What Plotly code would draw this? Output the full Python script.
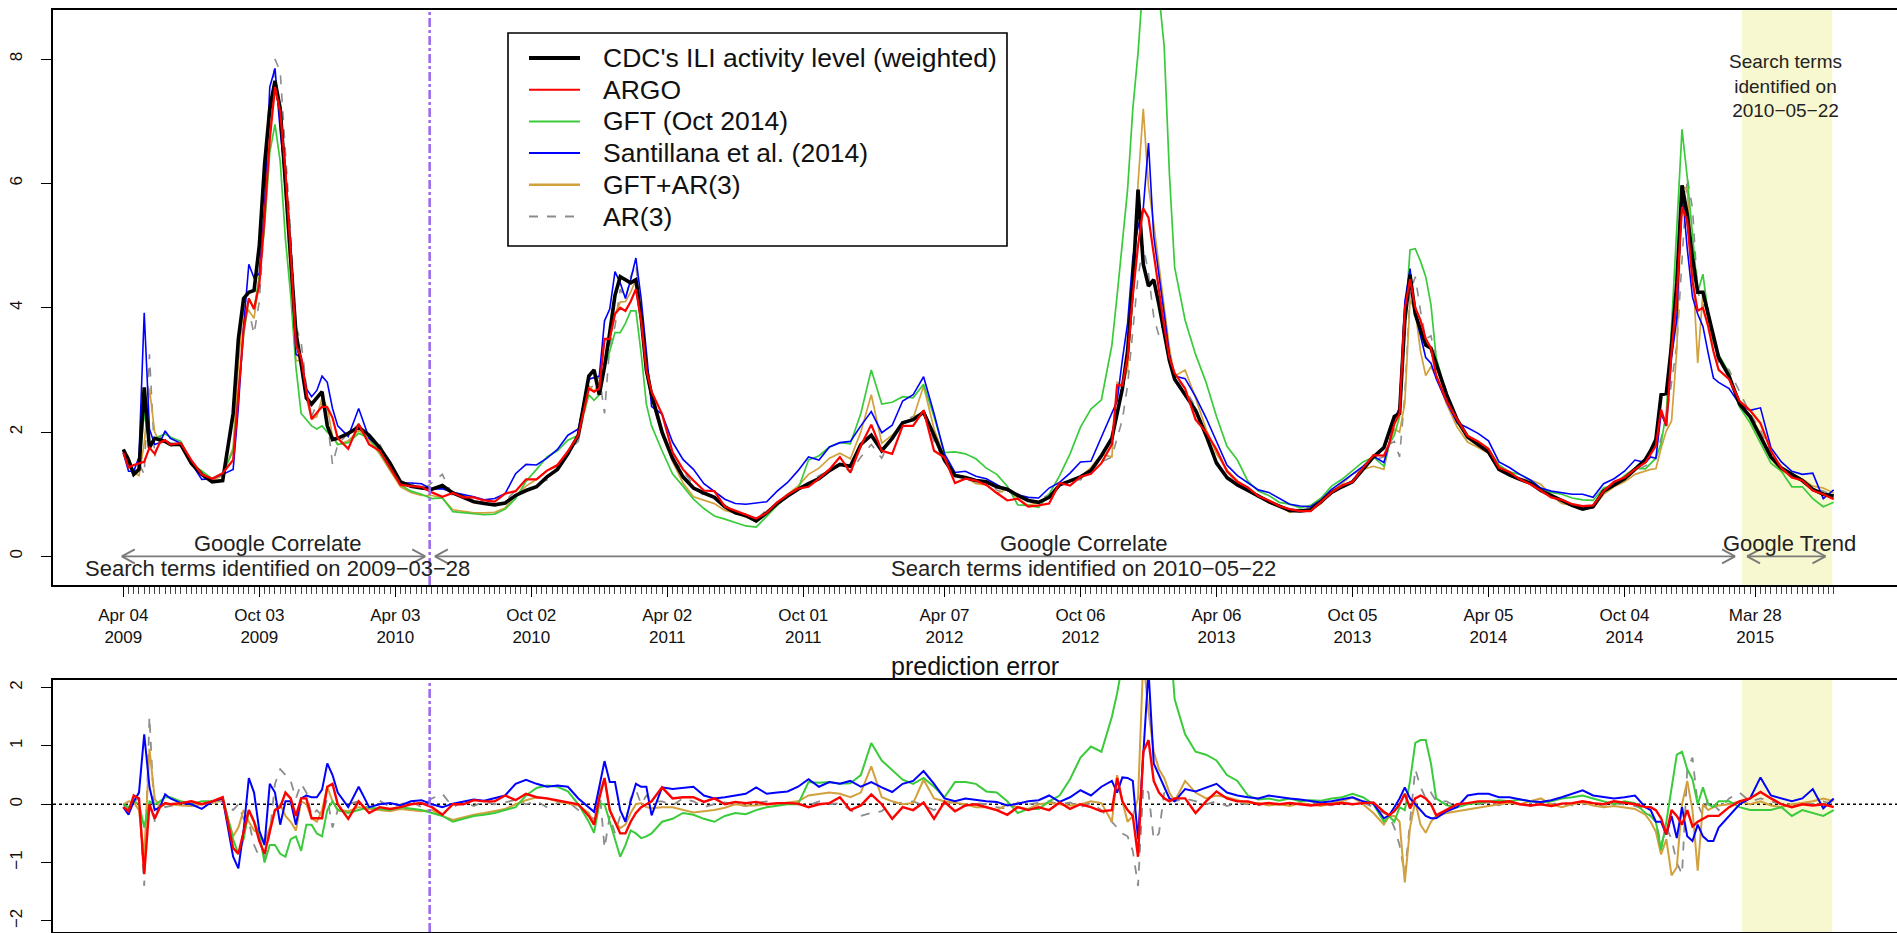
import pandas as pd
import plotly.graph_objects as go

START = pd.Timestamp("2009-04-04")

WEEK_OFFSETS = [
    0, 1, 2, 3, 4, 5, 6, 7, 8,
    9, 11, 13, 15, 17, 19,
    21, 22, 23, 24, 25, 26, 27, 28, 29, 30, 31, 32, 33, 34, 35, 36, 37, 38, 39, 40, 41,
    43, 45, 47, 49, 51, 53, 55, 57, 59, 61, 63, 65, 67, 69, 71, 73, 75, 77, 79, 81, 83, 85, 87,
    89, 90, 91, 92, 93, 94, 95, 96, 97, 98, 99, 100, 101,
    103, 105, 107, 109, 111, 113, 115, 117, 119, 121, 123, 125, 127, 129, 131, 133, 135, 137, 139, 141, 143,
    145, 147, 149, 151, 153, 155, 157, 159, 161, 163, 165, 167, 169, 171, 173, 175, 177, 179, 181, 183, 185, 187,
    189, 190, 191, 192, 193, 194, 195, 196, 197, 198, 199, 200, 201,
    203, 205, 207, 209, 211, 213, 215, 217, 219, 221, 223, 225, 227, 229, 231, 233, 235, 237, 239, 241,
    242, 243, 244, 245, 246, 247, 248, 249, 250, 251,
    253, 255, 257, 259, 261, 263, 265, 267, 269, 271, 273, 275, 277, 279, 281, 283, 285, 287, 289, 291,
    292, 293, 294, 295, 296, 297, 298, 299, 300, 301, 302, 303, 304, 305,
    307, 309, 311, 313, 315, 317, 319, 321, 323, 325, 327,
]

# CDC's ILI activity level (weighted)
CDC_ILI = [
    1.72, 1.55, 1.32, 1.40, 2.72, 1.75, 1.90, 1.88, 1.85,
    1.80, 1.80, 1.50, 1.32, 1.20, 1.22,
    2.30, 3.50, 4.15, 4.25, 4.28, 5.00, 6.30, 7.20, 7.65, 7.20, 6.00, 4.80, 3.60, 3.10, 2.55, 2.45, 2.55, 2.65, 2.10, 1.88, 1.90,
    1.98, 2.08, 1.95, 1.75, 1.50, 1.20, 1.13, 1.10, 1.08, 1.14, 1.02, 0.95, 0.88, 0.85, 0.83, 0.86, 0.98, 1.06, 1.12, 1.28, 1.40, 1.65, 1.95,
    2.90, 3.00, 2.60, 3.05, 3.60, 4.20, 4.50, 4.45, 4.40, 4.45, 3.85, 3.00, 2.60,
    2.00, 1.58, 1.28, 1.10, 1.02, 0.95, 0.80, 0.70, 0.66, 0.57, 0.70, 0.85, 0.97, 1.08, 1.17, 1.25, 1.38, 1.48, 1.45, 1.80, 1.95,
    1.70, 1.90, 2.15, 2.20, 2.32, 1.95, 1.55, 1.30, 1.27, 1.22, 1.20, 1.12, 1.08, 0.98, 0.90, 0.87, 0.95, 1.15, 1.22, 1.28, 1.38, 1.62,
    1.90, 2.30, 2.70, 3.30, 4.40, 5.90, 4.70, 4.35, 4.45, 4.05, 3.60, 3.15, 2.85,
    2.60, 2.35, 1.95, 1.50, 1.27, 1.15, 1.06, 0.97, 0.88, 0.81, 0.74, 0.73, 0.75, 0.88, 1.03, 1.12, 1.20, 1.40, 1.60, 1.75,
    2.00, 2.25, 2.30, 3.80, 4.53, 3.90, 3.65, 3.40, 3.35, 3.10,
    2.60, 2.20, 1.92, 1.80, 1.68, 1.40, 1.31, 1.24, 1.18, 1.06, 0.98, 0.90, 0.82, 0.76, 0.80, 1.05, 1.15, 1.25, 1.40, 1.56,
    1.70, 1.88, 2.60, 2.62, 3.40, 4.40, 5.97, 5.50, 4.80, 4.25, 4.25, 3.90, 3.50, 3.20,
    2.90, 2.45, 2.25, 1.93, 1.60, 1.42, 1.32, 1.22, 1.08, 1.00, 0.97,
]

# prediction errors (estimate minus CDC)
ERR_ARGO = [
    -0.05, -0.12, 0.15, 0.10, -1.20, 0.00, -0.25, -0.05, 0.02,
    0.00, 0.02, 0.05, 0.00, 0.05, 0.12,
    -0.75, -0.85, -0.50, -0.10, -0.30, -0.63, -0.85, -0.50, -0.10, -0.05, 0.20, 0.10, -0.20, 0.10, 0.10, -0.24, -0.24, -0.24, 0.30, 0.35, 0.00,
    -0.25, 0.05, -0.15, -0.05, -0.08, -0.05, 0.00, 0.02, -0.05, -0.18, 0.00, 0.00, 0.07, 0.05, 0.05, 0.15, 0.07, 0.18, 0.12, 0.10, 0.07, 0.04, 0.00,
    -0.20, -0.35, 0.10, 0.45, -0.10, -0.30, -0.50, -0.50, -0.30, -0.15, -0.05, 0.00, 0.05,
    0.29, 0.10, 0.12, 0.12, 0.04, 0.10, 0.00, 0.04, 0.02, 0.04, 0.00, 0.02, 0.02, 0.01, -0.05, 0.00, 0.02, 0.12, -0.10, -0.02, 0.17,
    0.00, -0.25, -0.05, -0.10, 0.03, -0.25, 0.04, -0.12, -0.02, 0.00, -0.05, -0.10, -0.18, -0.05, -0.10, -0.05, -0.10, 0.03, -0.08, 0.00, -0.05, -0.12,
    -0.10, 0.45, 0.05, -0.10, -0.20, -0.90, 0.90, 1.10, 0.40, 0.20, 0.10, 0.05, 0.10,
    0.10, -0.15, 0.05, 0.22, 0.10, 0.05, 0.05, 0.00, 0.02, 0.00, 0.02, 0.00, -0.02, 0.00, 0.00, 0.02, 0.00, 0.02, 0.03, -0.13,
    -0.19, -0.12, 0.00, 0.18, -0.07, 0.10, 0.15, 0.10, 0.00, -0.19,
    -0.10, 0.00, 0.02, 0.05, 0.05, 0.03, 0.05, 0.00, -0.02, 0.00, -0.03, 0.01, 0.02, 0.05, 0.02, 0.00, 0.05, 0.02, 0.00, -0.05,
    -0.05, -0.10, -0.24, -0.52, -0.10, -0.20, -0.35, -0.10, -0.38, -0.30, -0.25, -0.20, -0.20, -0.20,
    -0.05, 0.05, 0.10, 0.21, 0.10, 0.00, -0.05, 0.00, -0.02, 0.00, -0.05,
]

ERR_GFT = [
    0.00, -0.05, 0.05, 0.00, -0.40, 0.05, 0.00, 0.05, 0.12,
    0.12, 0.05, 0.00, 0.05, 0.05, 0.12,
    -0.60, -0.85, -0.60, -0.10, -0.30, -0.50, -1.00, -0.70, -0.70, -0.85, -0.90, -0.60, -0.55, -0.80, -0.35, -0.35, -0.50, -0.55, -0.10, 0.05, -0.10,
    -0.15, -0.10, -0.05, -0.08, -0.10, -0.05, -0.08, -0.10, -0.15, -0.20, -0.30, -0.25, -0.20, -0.18, -0.15, -0.10, -0.05, 0.15, 0.28, 0.32, 0.30, 0.22, 0.00,
    -0.30, -0.49, 0.00, 0.00, -0.30, -0.60, -0.90, -0.70, -0.45, -0.50, -0.58, -0.55, -0.50,
    -0.30, -0.25, -0.15, -0.18, -0.25, -0.30, -0.20, -0.15, -0.17, -0.10, -0.05, -0.03, 0.00, 0.00, 0.38, 0.37, 0.38, 0.35, 0.36, 0.50, 1.05,
    0.75, 0.58, 0.42, 0.35, 0.45, 0.30, 0.12, 0.38, 0.38, 0.35, 0.22, 0.20, 0.05, -0.15, -0.08, -0.08, 0.05, 0.15, 0.43, 0.80, 0.99, 0.90,
    1.50, 1.90, 2.40, 2.60, 2.80, 2.20, 4.60, 6.00, 5.80, 5.00, 4.60, 3.00, 1.80,
    1.20, 0.90, 0.85, 0.75, 0.50, 0.40, 0.15, 0.08, 0.10, 0.06, 0.10, 0.05, 0.07, 0.06, 0.10, 0.12, 0.18, 0.12, 0.00, -0.30,
    -0.20, -0.30, -0.05, -0.10, 0.40, 1.05, 1.10, 1.10, 0.70, 0.10,
    -0.02, -0.05, 0.00, 0.02, 0.05, 0.07, 0.05, 0.08, 0.05, 0.03, 0.05, 0.10, 0.12, 0.15, 0.10, 0.05, 0.00, 0.05, 0.02, -0.15,
    -0.20, -0.30, -0.78, -0.30, 0.30, 0.85, 0.90, 0.60, 0.43, 0.00, 0.29, 0.00, -0.05, 0.05,
    0.05, -0.05, -0.10, -0.10, -0.10, -0.05, -0.20, -0.10, -0.15, -0.20, -0.10,
]

ERR_SANTILLANA = [
    -0.05, -0.18, 0.05, 0.20, 1.20, 0.30, -0.10, -0.05, 0.17,
    0.10, 0.02, 0.00, -0.08, 0.05, 0.10,
    -0.90, -1.10, -0.45, 0.45, 0.20, -0.45, -0.70, 0.35, 0.20, -0.35, 0.05, 0.05, -0.35, 0.10, 0.15, 0.12, 0.12, 0.25, 0.70, 0.50, 0.20,
    -0.05, 0.30, -0.05, 0.00, 0.02, -0.02, 0.05, 0.07, 0.00, -0.05, 0.01, 0.05, 0.08, 0.06, 0.10, 0.15, 0.35, 0.42, 0.35, 0.30, 0.32, 0.30, 0.10,
    -0.05, -0.13, 0.30, 0.74, 0.38, 0.38, -0.10, -0.30, 0.05, 0.35, 0.30, 0.30, -0.19,
    0.29, 0.26, 0.28, 0.30, 0.15, 0.10, 0.12, 0.15, 0.18, 0.29, 0.18, 0.20, 0.22, 0.30, 0.43, 0.30, 0.38, 0.35, 0.40, 0.30, 0.38,
    0.29, 0.21, 0.35, 0.40, 0.57, 0.35, 0.10, 0.05, 0.10, 0.07, 0.05, 0.04, -0.02, 0.01, 0.05, 0.07, 0.15, 0.04, 0.12, 0.24, 0.15, 0.30,
    0.40, 0.20, 0.46, 0.45, 0.40, -0.60, 0.90, 2.30, 0.70, 0.50, 0.30, 0.10, 0.05,
    0.26, 0.22, 0.28, 0.35, 0.20, 0.15, 0.12, 0.10, 0.15, 0.12, 0.10, 0.08, 0.05, 0.03, 0.05, 0.08, 0.12, 0.05, 0.01, -0.24,
    -0.19, -0.05, 0.10, 0.29, 0.10, 0.00, -0.10, -0.20, -0.24, -0.24,
    -0.12, -0.05, 0.15, 0.18, 0.18, 0.12, 0.12, 0.08, 0.05, 0.04, 0.07, 0.12, 0.18, 0.24, 0.15, 0.12, 0.10, 0.12, 0.15, -0.05,
    -0.10, -0.30, -0.30, -0.52, -0.20, -0.58, -0.05, -0.55, -0.63, -0.35, -0.55, -0.63, -0.63, -0.40,
    -0.20, 0.00, 0.10, 0.46, 0.15, 0.10, 0.05, 0.10, 0.26, -0.07, 0.10,
]

ERR_GFT_AR3 = [
    0.00, 0.05, 0.03, -0.10, -0.90, 0.95, 0.10, -0.05, 0.00,
    0.00, -0.02, -0.03, 0.00, 0.02, 0.08,
    -0.55, -0.40, -0.10, -0.30, -0.45, -0.50, -0.65, -0.40, -0.10, 0.00, -0.20, -0.30, -0.45, 0.05, 0.00, -0.24, -0.30, -0.10, 0.30, 0.05, -0.10,
    -0.12, -0.05, -0.08, -0.10, -0.12, -0.08, -0.10, -0.12, -0.10, -0.20, -0.27, -0.22, -0.18, -0.15, -0.12, -0.08, 0.00, 0.07, 0.12, 0.10, 0.05, 0.02, -0.02,
    -0.15, -0.35, 0.20, 0.43, -0.10, -0.30, -0.41, -0.35, -0.15, 0.00, 0.02, -0.05, -0.07,
    -0.05, -0.05, -0.10, -0.14, -0.12, -0.10, -0.06, 0.00, -0.02, -0.02, 0.00, 0.00, 0.03, 0.05, 0.15, 0.17, 0.20, 0.18, 0.12, 0.20, 0.65,
    0.12, 0.05, 0.00, 0.02, 0.42, 0.10, 0.05, 0.02, 0.00, -0.05, -0.05, -0.10, 0.00, -0.05, -0.08, 0.00, 0.02, 0.00, -0.02, 0.00, 0.05, 0.02,
    -0.30, 0.50, 0.05, -0.30, -0.20, 0.10, 2.50, 1.60, 0.90, 0.60, 0.45, 0.20, 0.05,
    0.40, 0.20, 0.10, 0.15, 0.12, 0.07, 0.02, 0.02, -0.02, 0.00, -0.03, 0.02, 0.00, -0.03, 0.02, 0.05, 0.12, 0.00, -0.15, -0.35,
    -0.20, -0.20, -0.30, -1.34, -0.40, 0.05, -0.35, -0.49, -0.30, -0.20,
    -0.15, -0.12, -0.08, -0.05, -0.02, 0.00, 0.02, 0.00, 0.05, 0.10, 0.00, -0.05, 0.00, 0.03, -0.02, -0.05, -0.03, -0.05, -0.08, -0.18,
    -0.30, -0.47, -0.86, -0.60, -1.22, -1.08, 0.00, 0.40, -0.10, -1.14, 0.00, -0.10, -0.05, -0.02,
    0.00, 0.05, 0.00, 0.05, -0.02, -0.05, 0.00, 0.02, 0.05, 0.10, 0.05,
]

ERR_AR3 = [
    0.00, -0.10, 0.05, 0.10, -1.40, 1.50, -0.30, 0.05, -0.05,
    -0.03, 0.02, 0.05, 0.00, 0.05, 0.05,
    -0.10, 0.00, -0.25, -0.30, -0.70, -0.90, -0.92, -0.50, 0.35, 0.60, 0.50, 0.40, 0.10, 0.35, 0.20, -0.20, -0.10, -0.20, 0.10, -0.40, -0.10,
    0.00, 0.05, -0.08, 0.06, -0.05, 0.00, 0.05, -0.05, 0.10, 0.18, -0.05, 0.04, -0.03, 0.05, 0.00, 0.03, 0.08, 0.00, 0.05, -0.05, 0.02, 0.05, -0.10,
    -0.20, -0.25, 0.30, -0.75, -0.20, -0.50, -0.20, -0.30, 0.10, 0.25, 0.00, 0.15, 0.05,
    0.05, -0.02, 0.10, 0.05, -0.05, 0.00, 0.03, 0.00, -0.03, 0.02, 0.05, 0.00, 0.03, 0.00, -0.02, 0.05, 0.00, 0.02, -0.10, -0.20, -0.15,
    -0.12, 0.03, 0.02, 0.05, -0.02, -0.10, 0.00, 0.05, -0.03, 0.02, 0.00, -0.05, -0.08, 0.03, 0.00, 0.02, 0.05, 0.00, 0.03, -0.05, 0.02, -0.10,
    -0.30, -0.40, -0.50, -0.55, -0.80, -1.40, 0.30, 0.20, -0.60, -0.50, 0.20, 0.10, 0.05,
    0.10, 0.05, 0.00, 0.05, -0.03, 0.02, 0.00, -0.02, 0.03, 0.00, -0.02, 0.02, 0.05, 0.00, -0.02, 0.05, 0.00, 0.03, -0.05, -0.15,
    -0.20, -0.40, -0.70, -1.20, -0.30, 0.60, 0.30, 0.10, 0.20, 0.05,
    0.05, -0.05, 0.02, 0.00, 0.03, -0.02, 0.05, 0.00, -0.03, 0.02, 0.00, 0.03, -0.02, 0.00, 0.05, -0.05, 0.02, 0.00, -0.03, -0.10,
    -0.20, -0.30, -0.70, -0.40, -0.60, -1.00, -1.20, 0.60, 0.80, 0.00, -0.20, 0.10, 0.00, -0.10,
    0.10, 0.20, 0.05, 0.10, 0.05, 0.00, -0.05, 0.05, 0.00, 0.05, 0.00,
]

TICK_DATES = ["2009-04-04", "2009-10-03", "2010-04-03", "2010-10-02", "2011-04-02", "2011-10-01",
              "2012-04-07", "2012-10-06", "2013-04-06", "2013-10-05", "2014-04-05", "2014-10-04", "2015-03-28"]
TICK_LABELS = ["Apr 04<br>2009", "Oct 03<br>2009", "Apr 03<br>2010", "Oct 02<br>2010", "Apr 02<br>2011",
               "Oct 01<br>2011", "Apr 07<br>2012", "Oct 06<br>2012", "Apr 06<br>2013", "Oct 05<br>2013",
               "Apr 05<br>2014", "Oct 04<br>2014", "Mar 28<br>2015"]

NAMES = ["CDC's ILI activity level (weighted)", "ARGO", "GFT (Oct 2014)",
         "Santillana et al. (2014)", "GFT+AR(3)", "AR(3)"]
COLORS = {"cdc": "#000000", "argo": "#ff0000", "gft": "#3acb3a",
          "sant": "#0000ff", "gftar": "#d2a03c", "ar": "#8c8c8c"}

SWITCH_DATE = "2010-05-19"
TREND_BAND = ("2015-03-10", "2015-07-09")
ARROW_SPANS = [("2009-04-02", "2010-05-13"), ("2010-05-26", "2015-03-01"), ("2015-03-17", "2015-06-30")]

for arr in (CDC_ILI, ERR_ARGO, ERR_GFT, ERR_SANTILLANA, ERR_GFT_AR3, ERR_AR3):
    assert len(arr) == len(WEEK_OFFSETS), (len(arr), len(WEEK_OFFSETS))

FONT = "Liberation Sans, Arial, Helvetica, sans-serif"
W, H = 1897, 933
ML, MR, MT, MB = 53, 0, 10, 1
PW, PH = W - ML - MR, H - MT - MB


def wk(w):
    return START + pd.Timedelta(days=7 * w)


def px(xp):
    return (xp - ML) / PW


def py(yp):
    return (H - MB - yp) / PH


dates = [wk(w) for w in WEEK_OFFSETS]


def est(err):
    return [c + e for c, e in zip(CDC_ILI, err)]


fig = go.Figure()

top_specs = [
    (NAMES[5], est(ERR_AR3), COLORS["ar"], 1.6, "dash"),
    (NAMES[4], est(ERR_GFT_AR3), COLORS["gftar"], 1.7, "solid"),
    (NAMES[2], est(ERR_GFT), COLORS["gft"], 1.7, "solid"),
    (NAMES[3], est(ERR_SANTILLANA), COLORS["sant"], 1.6, "solid"),
    (NAMES[0], CDC_ILI, COLORS["cdc"], 3.6, "solid"),
    (NAMES[1], est(ERR_ARGO), COLORS["argo"], 2.2, "solid"),
]
for name, yv, col, lw, dash in top_specs:
    fig.add_trace(go.Scatter(x=dates, y=yv, mode="lines", name=name, showlegend=False,
                             line=dict(color=col, width=lw, dash=dash), xaxis="x", yaxis="y"))

bot_specs = [
    (NAMES[5], ERR_AR3, COLORS["ar"], 1.8, "dash"),
    (NAMES[4], ERR_GFT_AR3, COLORS["gftar"], 2.0, "solid"),
    (NAMES[2], ERR_GFT, COLORS["gft"], 2.0, "solid"),
    (NAMES[3], ERR_SANTILLANA, COLORS["sant"], 2.0, "solid"),
    (NAMES[1], ERR_ARGO, COLORS["argo"], 2.4, "solid"),
]
for name, yv, col, lw, dash in bot_specs:
    fig.add_trace(go.Scatter(x=dates, y=yv, mode="lines", name=name, showlegend=False,
                             line=dict(color=col, width=lw, dash=dash), xaxis="x2", yaxis="y2"))

x_range = [wk(-13.44), wk(339.1)]
minor_vals = [wk(k) for k in range(0, 328)]

shapes = []
# Google Trend period band (both panels)
for xr, yr in (("x", "y domain"), ("x2", "y2 domain")):
    shapes.append(dict(type="rect", xref=xr, yref=yr, x0=TREND_BAND[0], x1=TREND_BAND[1], y0=0, y1=1,
                       fillcolor="#f8f8d0", line=dict(width=0), layer="below"))
# search-term switch date
for xr, yr in (("x", "y domain"), ("x2", "y2 domain")):
    shapes.append(dict(type="line", xref=xr, yref=yr, x0=SWITCH_DATE, x1=SWITCH_DATE, y0=0, y1=1,
                       line=dict(color="#9b6cf0", width=2.6, dash="dashdot"), layer="above"))
# zero reference in the error panel
shapes.append(dict(type="line", xref="x2 domain", yref="y2", x0=0, x1=1, y0=0, y1=0,
                   line=dict(color="#000000", width=1.6, dash="dot"), layer="below"))
# double-headed arrows at y = 0 in the top panel
AC = "#7a7a7a"
for a, b in ARROW_SPANS:
    shapes.append(dict(type="line", xref="x", yref="y", x0=a, x1=b, y0=0, y1=0,
                       line=dict(color=AC, width=1.8)))
    for anchor, d in ((a, 1), (b, -1)):
        for s in (1, -1):
            shapes.append(dict(type="line", xref="x", yref="y", xsizemode="pixel", ysizemode="pixel",
                               xanchor=anchor, yanchor=0, x0=0, x1=13 * d, y0=0, y1=7 * s,
                               line=dict(color=AC, width=1.8)))

# legend box (drawn by hand to match the original's long key lines)
shapes.append(dict(type="rect", xref="paper", yref="paper", x0=px(508), x1=px(1007), y0=py(246), y1=py(33),
                   line=dict(color="#000000", width=1.6), fillcolor="white", layer="above"))
leg_rows = [58 + 31.7 * i for i in range(6)]
leg_style = [(COLORS["cdc"], 4.2, "solid"), (COLORS["argo"], 2.0, "solid"), (COLORS["gft"], 2.0, "solid"),
             (COLORS["sant"], 2.0, "solid"), (COLORS["gftar"], 2.6, "solid"), (COLORS["ar"], 2.0, "dash")]
annotations = []
for name, yrow, (col, lw, dash) in zip(NAMES, leg_rows, leg_style):
    shapes.append(dict(type="line", xref="paper", yref="paper", x0=px(529), x1=px(580), y0=py(yrow), y1=py(yrow),
                       line=dict(color=col, width=lw, dash=dash), layer="above"))
    annotations.append(dict(xref="paper", yref="paper", x=px(601), y=py(yrow), text=name, showarrow=False,
                            xanchor="left", yanchor="middle", font=dict(size=26.5, color="#111111", family=FONT)))

TXT = dict(size=22, color="#222222", family=FONT)
annotations += [
    dict(xref="x", yref="y", x=wk(29.5), y=0.21, text="Google Correlate", showarrow=False, font=TXT),
    dict(xref="x", yref="y", x=wk(29.5), y=-0.19, text="Search terms identified on 2009\u221203\u221228",
         showarrow=False, font=TXT),
    dict(xref="x", yref="y", x=wk(183.6), y=0.21, text="Google Correlate", showarrow=False, font=TXT),
    dict(xref="x", yref="y", x=wk(183.6), y=-0.19, text="Search terms identified on 2010\u221205\u221222",
         showarrow=False, font=TXT),
    dict(xref="x", yref="y", x=wk(318.5), y=0.21, text="Google Trend", showarrow=False, font=TXT),
    dict(xref="x", yref="y", x=wk(317.7), y=7.57, text="Search terms<br>identified on<br>2010\u221205\u221222",
         showarrow=False, font=dict(size=19, color="#222222", family=FONT), align="center"),
    dict(xref="paper", yref="paper", x=0.5, y=py(666), text="prediction error", showarrow=False,
         yanchor="middle", font=dict(size=25, color="#111111", family=FONT)),
]

axis_common = dict(showgrid=False, zeroline=False, showline=True, linecolor="#000000", linewidth=1.6,
                   tickcolor="#000000", tickfont=dict(size=17, family=FONT, color="#111111"))

fig.update_layout(
    width=W, height=H,
    margin=dict(l=ML, r=MR, t=MT, b=MB),
    paper_bgcolor="white", plot_bgcolor="white",
    font=dict(family=FONT, color="#111111"),
    showlegend=False,
    xaxis=dict(domain=[0, 1], anchor="y", type="date", range=x_range, mirror=True,
               tickmode="array", tickvals=TICK_DATES, ticktext=TICK_LABELS,
               ticks="outside", ticklen=10, tickwidth=1.4, ticklabelstandoff=4,
               minor=dict(tickmode="array", tickvals=minor_vals, ticks="outside", ticklen=7,
                          tickwidth=0.8, tickcolor="#444444", showgrid=False),
               **axis_common),
    yaxis=dict(domain=[py(585), 1], anchor="x", range=[-0.46, 8.79], tickvals=[0, 2, 4, 6, 8],
               tickangle=-90, ticks="outside", ticklen=10, tickwidth=1.4, ticklabelstandoff=12,
               **axis_common),
    xaxis2=dict(domain=[0, 1], anchor="y2", type="date", range=x_range, mirror=True,
                showticklabels=False, ticks="", **axis_common),
    yaxis2=dict(domain=[0, py(680)], anchor="x2", range=[-2.19, 2.13], tickvals=[-2, -1, 0, 1, 2],
                tickangle=-90, ticks="outside", ticklen=10, tickwidth=1.4, ticklabelstandoff=12,
                **axis_common),
    shapes=shapes,
    annotations=annotations,
)

fig.write_html("out.html", config={"displayModeBar": False},
               post_script="document.body.style.margin='0';document.body.style.overflow='hidden';")
